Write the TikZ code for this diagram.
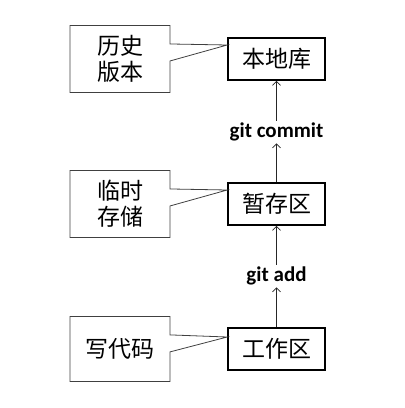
\documentclass[tikz,border=0pt]{standalone}
\usepackage{fontspec}
\setsansfont{Carlito}
\newfontfamily\cjk{Noto Sans CJK SC}
\usetikzlibrary{arrows.meta,positioning,shapes.callouts}

\tikzset{
  area/.style={draw, line width=1.6pt, rectangle, minimum width=97pt, minimum height=42pt, font=\cjk\fontsize{23}{26}\selectfont},
  note/.style={draw=black!75, line width=0.8pt, rectangle callout, minimum width=100pt, minimum height=67pt, callout pointer width=17pt, align=center, font=\cjk\fontsize{23}{26}\selectfont},
  cmd/.style={font=\sffamily\bfseries\fontsize{21}{24}\selectfont, inner sep=2pt},
  flow/.style={-{Straight Barb[length=4pt,width=8pt]}, line width=0.8pt, black!85}
}

\begin{document}
\begin{tikzpicture}[x=1pt, y=1pt]
    \useasboundingbox (0,0) rectangle (405,408);

    % Git areas
    \node[area] (repo) at (276.5,349) {本地库};
    \node[area] (stage) at (276.5,204) {暂存区};
    \node[area] (work) at (276.5,59) {工作区};

    % Commands
    \node[cmd] (commit) at (276.5,276) {git commit};
    \node[cmd] (add) at (276.5,132) {git add};
    \draw[flow] (work) -- (add);
    \draw[flow] (add) -- (stage);
    \draw[flow] (stage) -- (commit);
    \draw[flow] (commit) -- (repo);

    % Notes
    \node[note, callout absolute pointer={([yshift=14pt]repo.west)}] (history) at (120,349) {历史\\版本};
    \node[note, callout absolute pointer={([yshift=14pt]stage.west)}] (buffer) at (120,204) {临时\\存储};
    \node[note, minimum height=65pt, callout absolute pointer={([yshift=12pt]work.west)}] (coding) at (120,59) {写代码};
\end{tikzpicture}
\end{document}
